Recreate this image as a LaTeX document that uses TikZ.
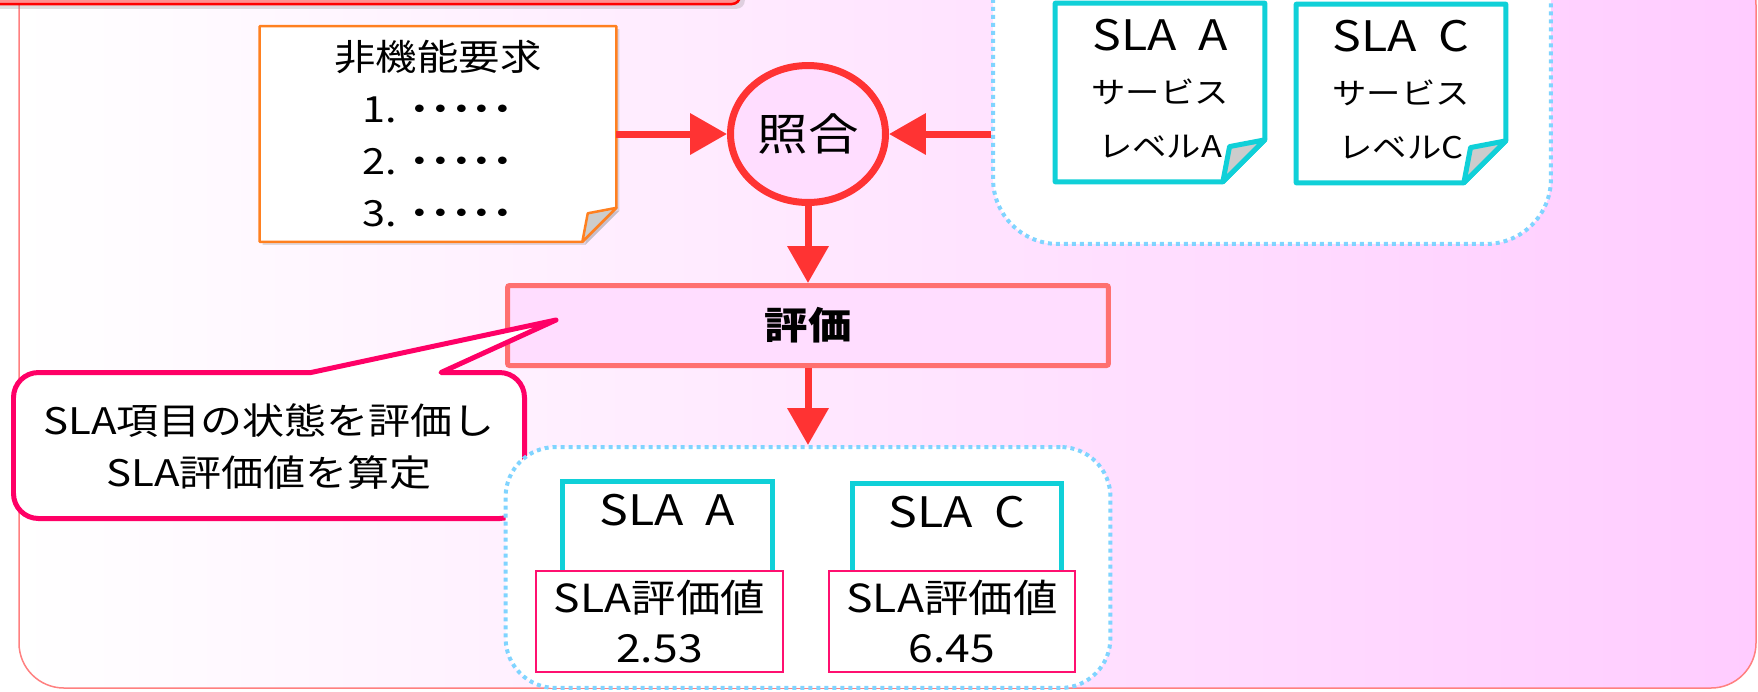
\documentclass[tikz,border=0pt]{standalone}
\usepackage{fontspec}
\setmainfont{Noto Sans CJK JP}[FakeStretch=1.15]
\usetikzlibrary{arrows.meta}
\usetikzlibrary{shapes.geometric}
\usetikzlibrary{shadows}

\definecolor{arrowred}{HTML}{FF3333}
\definecolor{pinkfill}{HTML}{FFDDFF}
\definecolor{bgpink}{HTML}{FFCCFF}
\definecolor{dotblue}{HTML}{80D4FF}
\definecolor{docteal}{HTML}{10D0D8}
\definecolor{evalline}{HTML}{FF7070}
\definecolor{callpink}{HTML}{FF0066}
\definecolor{valpink}{HTML}{FF1070}
\definecolor{noteorange}{HTML}{FF8020}
\definecolor{frameline}{HTML}{FF8080}
\definecolor{barred}{HTML}{FF9090}

\pgfdeclarelayer{back}
\pgfsetlayers{back,main}

% sheet of paper with a turned-down corner, drawn behind node #2
\newcommand{\sheet}[4][]{%
  \begin{pgfonlayer}{back}
  \filldraw[draw=#3,fill=white,line join=round,#1] (#2.north west) -- (#2.north east)
    -- ([yshift=#4cm]#2.south east) -- ([xshift=-#4cm]#2.south east) -- (#2.south west) -- cycle;
  \filldraw[draw=#3,fill=gray!40,line join=round,#1] ([yshift=#4cm]#2.south east)
    -- ([xshift=-#4cm]#2.south east) -- ([xshift=-0.84*#4cm,yshift=0.84*#4cm]#2.south east) -- cycle;
  \end{pgfonlayer}}

\begin{document}
\begin{tikzpicture}[x=0.02cm,y=-0.02cm,
  flow/.style={color=arrowred,line width=0.14cm,-{Triangle[length=0.74cm,width=0.8cm]}},
  area/.style={draw=dotblue,fill=white,line width=0.08cm,dash pattern=on 0.08cm off 0.08cm,
    rounded corners=#1,inner sep=0pt},
  sheettext/.style={inner sep=0pt,align=center},
  topbox/.style={draw=docteal,fill=white,line width=0.1cm,minimum width=4.2cm,
    inner sep=0pt,text height=0.87cm,text depth=0.99cm,font=\fontsize{23.9}{28}\selectfont},
  valbox/.style={draw=valpink,fill=white,line width=0.04cm,minimum height=2.02cm,
    align=center,inner sep=0pt,font=\fontsize{22}{28.5}\selectfont}]

  \clip (0,0) rectangle (1758,691);
  \useasboundingbox (0,0) rectangle (1758,691);

  \begin{pgfonlayer}{back}
    % outer frame and bar
    \draw[frameline,line width=0.03cm,rounded corners=0.9cm,left color=white,right color=bgpink]
      (19,-40) rectangle (1756,688);
    \draw[red,fill=barred,line width=0.05cm,rounded corners=0.16cm,drop shadow={opacity=0.25}]
      (-20,-60) rectangle (740,4);
    % SLA library
    \node[area=1.3cm,minimum width=11.16cm,minimum height=6.48cm] (lib) at (1272,82) {};
  \end{pgfonlayer}

  % requirements
  \node[sheettext,minimum width=7.12cm,minimum height=4.3cm,
    font=\fontsize{20.5}{29.6}\selectfont] (note) at (438,134)
    {非機能要求\\1. \textbf{･････}\\2. \textbf{･････}\\3. \textbf{･････}};
  \sheet[line width=0.05cm,drop shadow={opacity=0.25,shadow xshift=0.06cm,shadow yshift=-0.06cm}]{note}{noteorange}{0.68}

  % service levels
  \node[sheettext,minimum width=4.18cm,minimum height=3.56cm,
    font=\fontsize{17}{30.5}\selectfont] (slaA) at (1160,92.5)
    {{\fontsize{23.9}{30.5}\selectfont SLA\ \ A}\\サービス\\レベルA\\[-0.89cm]};
  \node[sheettext,minimum width=4.18cm,minimum height=3.56cm,
    font=\fontsize{17}{30.5}\selectfont] (slaC) at (1401,93.5)
    {{\fontsize{23.9}{30.5}\selectfont SLA\ \ C}\\サービス\\レベルC\\[-0.89cm]};
  \sheet[line width=0.1cm]{slaA}{docteal}{0.84}
  \sheet[line width=0.1cm]{slaC}{docteal}{0.84}

  \node[ellipse,draw=arrowred,fill=pinkfill,line width=0.14cm,minimum width=3.1cm,
    minimum height=2.74cm,inner sep=0pt,font=\fontsize{25}{28}\selectfont] (match) at (808,134) {照合};

  \node[draw=evalline,fill=pinkfill,line width=0.1cm,rounded corners=0.04cm,
    minimum width=12.02cm,minimum height=1.6cm,font=\bfseries\fontsize{21.5}{26}\selectfont]
    (eval) at (808,325.5) {評価};

  % comment balloon
  \filldraw[callpink,fill=white,line width=0.1cm,line join=round]
    (441,372.5) [rounded corners=0.5cm] -- (524.5,372.5) -- (524.5,518.5) -- (13.5,518.5)
    -- (13.5,372.5) [sharp corners] -- (311,372.5) -- (556,320) -- cycle;
  \node[align=center,font=\fontsize{20.8}{29.6}\selectfont] (cmt) at (269,447)
    {SLA項目の状態を評価し\\SLA評価値を算定};

  % results
  \node[area=1cm,minimum width=12.1cm,minimum height=4.82cm] (res) at (808,567.5) {};
  \node[topbox,minimum height=1.86cm] (topA) at (667.5,528) {SLA\ \ A};
  \node[topbox,minimum height=1.86cm] (topC) at (957,530) {SLA\ \ C};
  \node[valbox,minimum width=4.94cm] (valA) at (659.5,621.5) {SLA評価値\\2.53};
  \node[valbox,minimum width=4.92cm] (valC) at (952,621.5) {SLA評価値\\6.45};

  \path (note) edge[flow] (match)
    (lib.west |- match) edge[flow] (match)
    (match) edge[flow] (eval)
    (eval) edge[flow] (res);
\end{tikzpicture}
\end{document}
